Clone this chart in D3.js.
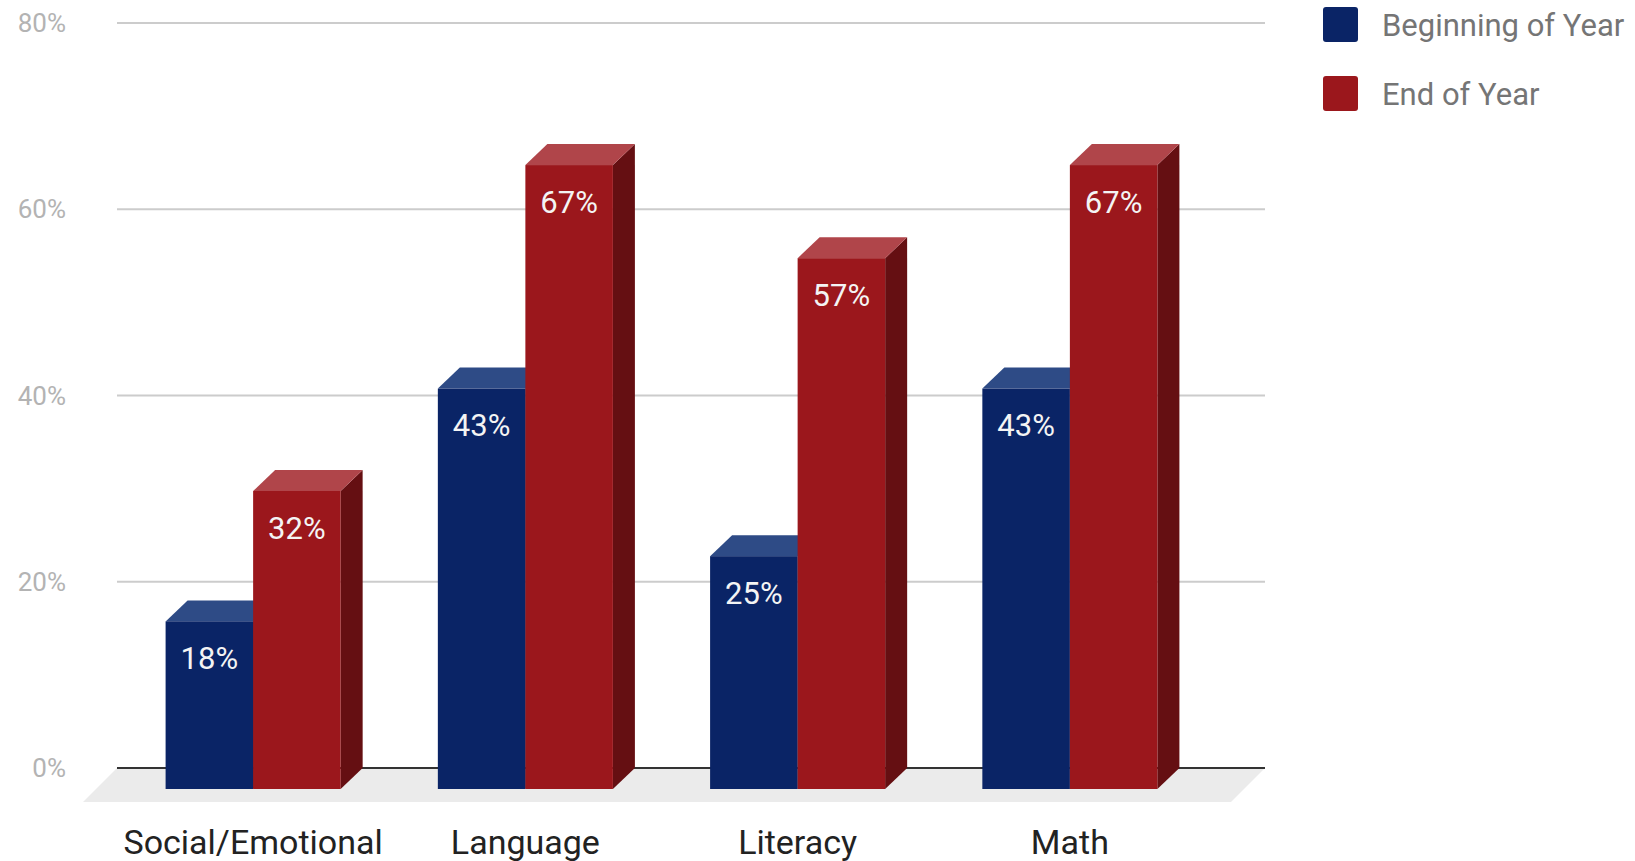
<!DOCTYPE html>
<html>
<head>
<meta charset="utf-8">
<script src="https://cdn.jsdelivr.net/npm/d3@7"></script>
<style>
  body { margin: 0; background: #fff; }
  text { font-family: Roboto, "Noto Sans", sans-serif; }
</style>
</head>
<body>
<script>
const categories = ["Social/Emotional", "Language", "Literacy", "Math"];
const seriesNames = ["Beginning of Year", "End of Year"];
const beginning = [18, 43, 25, 43];
const endOfYear = [32, 67, 57, 67];
const yTicks = [0, 20, 40, 60, 80];

const W = 1635, H = 861;
const colors = [
  { front: "#0a2466", top: "#2e4b86", side: "#07183f" },
  { front: "#9b171c", top: "#b0454a", side: "#650f12" }
];
const depthX = 22, depthY = 21;
const gridLeft = 117, gridRight = 1265, floorDepth = 34;

const svg = d3.select("body").append("svg")
  .attr("width", W)
  .attr("height", H);

const y = d3.scaleLinear().domain([0, 80]).range([768, 23]);
const x = d3.scaleBand().domain(categories)
  .range([117, 1206]).paddingInner(0.357).paddingOuter(0.1785);
const sub = d3.scaleBand().domain([0, 1]).range([0, x.bandwidth()]);

// floor
svg.append("path")
  .attr("d", `M${gridLeft},${y(0)} L${gridRight},${y(0)} L${gridRight - floorDepth},${y(0) + floorDepth} L${gridLeft - floorDepth},${y(0) + floorDepth} Z`)
  .attr("fill", "#ebebeb");

// gridlines and y labels
svg.append("g")
  .selectAll("line")
  .data(yTicks.filter(d => d > 0))
  .join("line")
  .attr("x1", gridLeft).attr("x2", gridRight)
  .attr("y1", d => y(d)).attr("y2", d => y(d))
  .attr("stroke", "#cccccc")
  .attr("stroke-width", 2);

svg.append("line")
  .attr("x1", gridLeft).attr("x2", gridRight)
  .attr("y1", y(0)).attr("y2", y(0))
  .attr("stroke", "#333")
  .attr("stroke-width", 2);

svg.append("g")
  .selectAll("text")
  .data(yTicks)
  .join("text")
  .attr("x", 66)
  .attr("y", d => y(d))
  .attr("dy", "0.35em")
  .attr("text-anchor", "end")
  .attr("fill", "#b3b3b3")
  .attr("font-size", 26)
  .text(d => d + "%");

// bars
const rows = [];
categories.forEach((c, i) => {
  rows.push({ cat: c, s: 0, v: beginning[i] });
  rows.push({ cat: c, s: 1, v: endOfYear[i] });
});

const bars = svg.append("g")
  .selectAll("g")
  .data(rows)
  .join("g");

bars.each(function (d) {
  const g = d3.select(this);
  const w = sub.bandwidth();
  const x0 = x(d.cat) + sub(d.s);
  const yt = y(d.v), yb = y(0);
  const c = colors[d.s];
  // side face
  g.append("path")
    .attr("d", `M${x0 + w},${yt + depthY} L${x0 + w + depthX},${yt} L${x0 + w + depthX},${yb} L${x0 + w},${yb + depthY} Z`)
    .attr("fill", c.side);
  // top face
  g.append("path")
    .attr("d", `M${x0},${yt + depthY} L${x0 + depthX},${yt} L${x0 + w + depthX},${yt} L${x0 + w},${yt + depthY} Z`)
    .attr("fill", c.top);
  // front face
  g.append("rect")
    .attr("x", x0).attr("y", yt + depthY)
    .attr("width", w).attr("height", yb - yt)
    .attr("fill", c.front);
  g.append("text")
    .attr("x", x0 + w / 2)
    .attr("y", yt + depthY + 37)
    .attr("dy", "0.35em")
    .attr("text-anchor", "middle")
    .attr("fill", "#f4f4f4")
    .attr("font-size", 31)
    .text(d.v + "%");
});

// category labels
svg.append("g")
  .selectAll("text")
  .data(categories)
  .join("text")
  .attr("x", d => x(d) + x.bandwidth() / 2)
  .attr("y", 842)
  .attr("dy", "0.35em")
  .attr("text-anchor", "middle")
  .attr("fill", "#222")
  .attr("font-size", 34)
  .text(d => d);

// legend
const legend = svg.append("g")
  .selectAll("g")
  .data(seriesNames)
  .join("g")
  .attr("transform", (d, i) => `translate(1323, ${7 + i * 69})`);

legend.append("rect")
  .attr("width", 35).attr("height", 35)
  .attr("rx", 3)
  .attr("fill", (d, i) => colors[i].front);

legend.append("text")
  .attr("x", 59)
  .attr("y", 18)
  .attr("dy", "0.35em")
  .attr("fill", "#757575")
  .attr("font-size", 31)
  .text(d => d);
</script>
</body>
</html>
